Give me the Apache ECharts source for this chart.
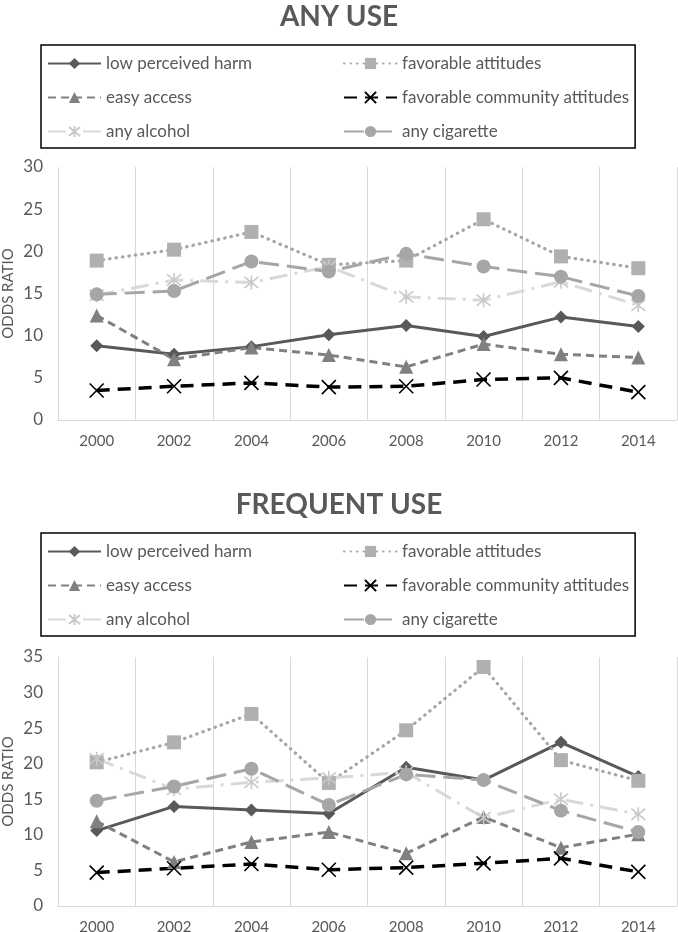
<!DOCTYPE html>
<html>
<head>
<meta charset="utf-8">
<script src="https://cdn.jsdelivr.net/npm/echarts@6/dist/echarts.min.js"></script>
<style>html,body{margin:0;padding:0;background:#fff}#c{width:678px;height:932px}</style>
</head>
<body>
<div id="c"></div>
<script>
const years = ['2000', '2002', '2004', '2006', '2008', '2010', '2012', '2014'];
const seriesNames = ['low perceived harm', 'favorable attitudes', 'easy access', 'favorable community attitudes', 'any alcohol', 'any cigarette'];
const yTicksAny = [0, 30, 5];
const yTicksFreq = [0, 35, 5];

// ANY USE
const anyHarm = [8.8, 7.8, 8.7, 10.1, 11.2, 9.9, 12.2, 11.1];
const anyFavorable = [18.9, 20.2, 22.3, 18.4, 18.9, 23.8, 19.4, 18.0];
const anyAccess = [12.4, 7.2, 8.6, 7.7, 6.3, 9.0, 7.8, 7.4];
const anyCommunity = [3.5, 4.0, 4.4, 3.9, 4.0, 4.8, 5.0, 3.3];
const anyAlcohol = [14.8, 16.6, 16.3, 18.2, 14.6, 14.2, 16.4, 13.6];
const anyCigarette = [14.9, 15.3, 18.8, 17.6, 19.7, 18.2, 17.0, 14.7];

// FREQUENT USE
const freqHarm = [10.6, 14.0, 13.5, 13.0, 19.5, 17.7, 23.0, 18.2];
const freqFavorable = [20.2, 23.0, 27.0, 17.3, 24.7, 33.6, 20.5, 17.6];
const freqAccess = [11.9, 6.2, 9.0, 10.4, 7.4, 12.5, 8.2, 10.1];
const freqCommunity = [4.7, 5.3, 5.9, 5.1, 5.4, 6.0, 6.7, 4.8];
const freqAlcohol = [20.7, 16.4, 17.4, 18.0, 18.8, 12.4, 15.0, 12.9];
const freqCigarette = [14.8, 16.8, 19.3, 14.2, 18.5, 17.7, 13.4, 10.4];

const FONT = 'Lato';
const TXT = '#595959';
const GRID = '#D9D9D9';

const xPath = 'path://M0,0L20,20M20,0L0,20';
const starPath = 'path://M2,2L18,18M18,2L2,18M10,0L10,20';

const styles = [
  {color: '#595959', type: 'solid', width: 3, symbol: 'diamond', size: 13},
  {color: '#A6A6A6', type: [0.5, 6], cap: 'round', width: 3.2, symbol: 'rect', size: 14, itemColor: '#B0B0B0'},
  {color: '#808080', type: [8, 5], width: 3, symbol: 'triangle', size: 14},
  {color: '#000000', type: [13, 8], width: 3.5, symbol: xPath, size: 14, stroke: true},
  {color: '#D9D9D9', type: [18, 7, 3, 7], width: 3, symbol: starPath, size: 14, stroke: true, itemColor: '#C8C8C8'},
  {color: '#A6A6A6', type: [20, 8], width: 3, symbol: 'circle', size: 14}
];

function mkSeries(dataArrs, idx) {
  return dataArrs.map((d, i) => {
    const s = styles[i];
    const itemStyle = s.stroke
      ? {color: 'rgba(0,0,0,0)', borderColor: s.itemColor || s.color, borderWidth: 1.6}
      : {color: s.itemColor || s.color, borderWidth: 0};
    return {
      name: seriesNames[i],
      type: 'line',
      xAxisIndex: idx, yAxisIndex: idx,
      data: d,
      symbol: s.symbol,
      symbolSize: s.size,
      showAllSymbol: true,
      lineStyle: {color: s.color, width: s.width, type: s.type, cap: s.cap || 'butt'},
      itemStyle: itemStyle,
      emphasis: {disabled: true},
      animation: false
    };
  });
}

function mkLegend(top) {
  return {
    left: 41, top: top,
    width: 590,
    orient: 'horizontal',
    itemWidth: 53, itemHeight: 14,
    itemGap: 17,
    padding: [10, 6, 8, 6],
    borderColor: '#000', borderWidth: 1.5,
    selectedMode: false,
    data: seriesNames,
    textStyle: {fontFamily: FONT, fontSize: 17, color: TXT, width: 220, lineHeight: 14}
  };
}

function mkX(idx) {
  return {
    type: 'category', gridIndex: idx, data: years, boundaryGap: true,
    axisLine: {lineStyle: {color: GRID, width: 1}},
    axisTick: {show: false},
    splitLine: {show: true, lineStyle: {color: GRID, width: 1}},
    axisLabel: {fontFamily: FONT, fontSize: 15, color: TXT, margin: 14}
  };
}
function mkY(idx, t) {
  return {
    type: 'value', gridIndex: idx, min: t[0], max: t[1], interval: t[2],
    name: 'ODDS RATIO', nameLocation: 'middle', nameGap: 42, nameMoveOverlap: false,
    nameTextStyle: {fontFamily: FONT, fontSize: 15, color: TXT},
    axisLine: {show: false}, axisTick: {show: false},
    splitLine: {show: false},
    axisLabel: {fontFamily: FONT, fontSize: 17, color: TXT, margin: 15}
  };
}

const chart = echarts.init(document.getElementById('c'), null, {renderer: 'canvas'});
chart.setOption({
  backgroundColor: '#fff',
  animation: false,
  title: [
    {text: 'ANY USE', left: 'center', top: -2, textStyle: {fontFamily: FONT, fontWeight: 'bold', fontSize: 28, color: TXT}},
    {text: 'FREQUENT USE', left: 'center', top: 486, textStyle: {fontFamily: FONT, fontWeight: 'bold', fontSize: 28, color: TXT}}
  ],
  legend: [mkLegend(45), mkLegend(533)],
  grid: [
    {left: 58, right: 1, top: 167, bottom: 512, containLabel: false, outerBoundsMode: 'none'},
    {left: 58, right: 1, top: 657, bottom: 26, containLabel: false, outerBoundsMode: 'none'}
  ],
  xAxis: [mkX(0), mkX(1)],
  yAxis: [mkY(0, yTicksAny), mkY(1, yTicksFreq)],
  series: mkSeries([anyHarm, anyFavorable, anyAccess, anyCommunity, anyAlcohol, anyCigarette], 0)
    .concat(mkSeries([freqHarm, freqFavorable, freqAccess, freqCommunity, freqAlcohol, freqCigarette], 1))
});
</script>
</body>
</html>
